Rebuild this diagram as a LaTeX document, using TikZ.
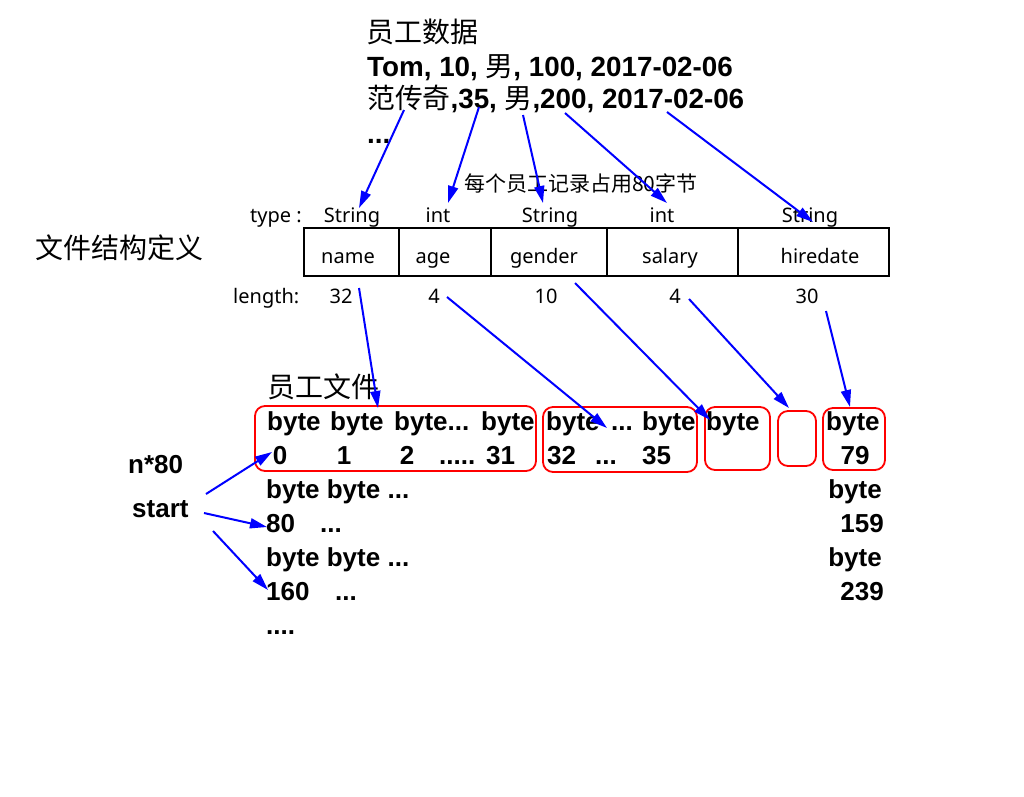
\documentclass[tikz,border=0pt]{standalone}
\usepackage{fontspec}
\setmainfont{Liberation Sans}
\newfontfamily\cjk{Noto Sans CJK SC}
\newfontfamily\lab{Noto Sans}
\usetikzlibrary{arrows.meta}
\begin{document}
\begin{tikzpicture}[x=1pt,y=-1pt,
  bw/.style={inner sep=0pt, anchor=base west},
  be/.style={inner sep=0pt, anchor=base east},
  bc/.style={inner sep=0pt, anchor=base},
  big/.style={font=\fontsize{27.8}{32}\selectfont\bfseries},
  cn/.style={font=\fontsize{28}{32}\selectfont\cjk},
  small/.style={font=\fontsize{20}{24}\selectfont\lab},
  byt/.style={font=\fontsize{26}{30}\selectfont\bfseries},
  arr/.style={draw=blue, line width=2pt, -{Triangle[length=17pt,width=10pt]}},
  rbox/.style={draw=red, line width=1.8pt, rounded corners=10pt},
  tbl/.style={draw=black, line width=2.6pt}
]
\useasboundingbox (0,0) rectangle (1024,796);
\fill[white] (0,0) rectangle (1024,796);

% top data
\node[cn, anchor=west, inner sep=0pt] (t0) at (366,32) {员工数据};
\node[big, bw] (t1) at (367,76) {Tom, 10, {\cjk\mdseries 男}, 100, 2017-02-06};
\node[big, bw] (t2) at (367,108) {{\cjk\mdseries 范传奇},35, {\cjk\mdseries 男},200, 2017-02-06};
\node[big, bw] (t3) at (367,143) {...};
\node[font=\fontsize{21}{24}\selectfont\cjk, anchor=west, inner sep=0pt] (rec) at (464,183) {每个员工记录占用80字节};

% structure definition
\node[cn, anchor=west, inner sep=0pt] (def) at (35,248) {文件结构定义};
\node[small, bw] (type) at (250,222) {type :};
\node[small, bc] (ty1) at (352,222) {String};
\node[small, bc] (ty2) at (438,222) {int};
\node[small, bc] (ty3) at (550,222) {String};
\node[small, bc] (ty4) at (662,222) {int};
\node[small, bc] (ty5) at (810,222) {String};

\draw[tbl] (304,228) rectangle (889,276);
\foreach \x in {399,491,607,738} \draw[tbl] (\x,228) -- (\x,276);
\node[small, bc] (f1) at (348,263) {name};
\node[small, bc] (f2) at (433,263) {age};
\node[small, bc] (f3) at (544,263) {gender};
\node[small, bc] (f4) at (670,263) {salary};
\node[small, bc] (f5) at (820,263) {hiredate};

\node[small, bw] (len) at (233,303) {length:};
\node[small, bc] (l1) at (341,303) {32};
\node[small, bc] (l2) at (434,303) {4};
\node[small, bc] (l3) at (546,303) {10};
\node[small, bc] (l4) at (675,303) {4};
\node[small, bc] (l5) at (807,303) {30};

% file
\node[cn, anchor=west, inner sep=0pt] (file) at (267,387) {员工文件};

\draw[rbox] (255,406) rectangle (536,471);
\draw[rbox] (543,407) rectangle (697,472);
\draw[rbox] (705,407) rectangle (770,470);
\draw[rbox] (778,411) rectangle (816,466);
\draw[rbox] (823,408) rectangle (885,470);

\node[byt, bw] (b1) at (267,430) {byte};
\node[byt, bw] (b2) at (330,430) {byte};
\node[byt, bw] (b3) at (394,430) {byte...};
\node[byt, bw] (b4) at (481,430) {byte};
\node[byt, bw] (b5) at (546,430) {byte};
\node[byt, bw] (b6) at (611,430) {...};
\node[byt, bw] (b7) at (642,430) {byte};
\node[byt, bw] (b8) at (706,430) {byte};
\node[byt, bw] (b9) at (826,430) {byte};

\node[byt, bc] (n0) at (280,464) {0};
\node[byt, bc] (n1) at (344,464) {1};
\node[byt, bc] (n2) at (407,464) {2};
\node[byt, bw] (n3) at (439,464) {.....};
\node[byt, bw] (n4) at (486,464) {31};
\node[byt, bw] (n5) at (547,464) {32};
\node[byt, bw] (n6) at (595,464) {...};
\node[byt, bw] (n7) at (642,464) {35};
\node[byt, bc] (n8) at (855,464) {79};

\node[byt, bw] (r3) at (266,498) {byte byte ...};
\node[byt, be] (r3e) at (882,498) {byte};
\node[byt, bw] (r4) at (266,532) {80};
\node[byt, bw] (r4b) at (320,532) {...};
\node[byt, be] (r4e) at (884,532) {159};
\node[byt, bw] (r5) at (266,566) {byte byte ...};
\node[byt, be] (r5e) at (882,566) {byte};
\node[byt, bw] (r6) at (266,600) {160};
\node[byt, bw] (r6b) at (335,600) {...};
\node[byt, be] (r6e) at (884,600) {239};
\node[byt, bw] (r7) at (266,634) {....};

\node[byt, bw] (n80) at (128,473) {n*80};
\node[byt, bw] (start) at (132,517) {start};

% arrow end points
\coordinate (a1s) at (404,110); \coordinate (a1e) at (359,208);
\coordinate (a2s) at (479,107); \coordinate (a2e) at (448,203);
\coordinate (a3s) at (523,115); \coordinate (a3e) at (543,203);
\coordinate (a4s) at (565,113); \coordinate (a4e) at (667,203);
\coordinate (a5s) at (667,112); \coordinate (a5e) at (813,222);
\coordinate (a6s) at (359,288); \coordinate (a6e) at (378,408);
\coordinate (a7s) at (447,297); \coordinate (a7e) at (607,428);
\coordinate (a8s) at (575,283); \coordinate (a8e) at (710,420);
\coordinate (a9s) at (689,299); \coordinate (a9e) at (789,408);
\coordinate (a10s) at (826,311); \coordinate (a10e) at (850,407);
\coordinate (a11s) at (206,494); \coordinate (a11e) at (272,452);
\coordinate (a12s) at (204,513); \coordinate (a12e) at (267,527);
\coordinate (a13s) at (213,531); \coordinate (a13e) at (268,590);

\foreach \i in {1,...,13} \draw[arr] (a\i s) -- (a\i e);
\end{tikzpicture}
\end{document}
